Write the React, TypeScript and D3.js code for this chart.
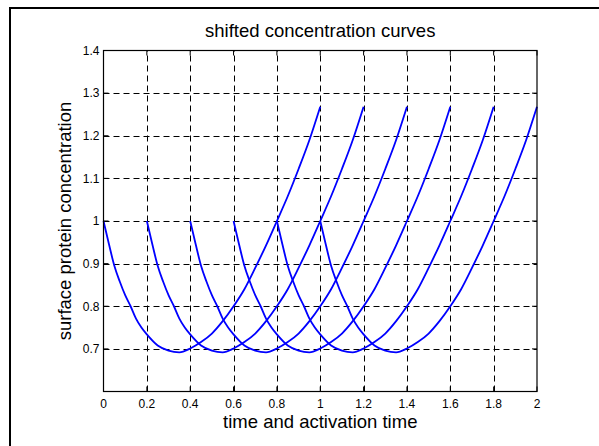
import React from "react";
import * as d3 from "d3";

// Base concentration curve (relative time s, value)
const baseTimes = [0, 0.025, 0.05, 0.075, 0.1, 0.125, 0.15, 0.175, 0.2, 0.25, 0.3, 0.35, 0.4, 0.45, 0.5, 0.55, 0.6, 0.65, 0.7, 0.75, 0.8, 0.85, 0.9, 0.95, 1.0];
const baseValues = [1.0, 0.946, 0.895, 0.858, 0.826, 0.8, 0.771, 0.75, 0.734, 0.708, 0.696, 0.692, 0.701, 0.716, 0.736, 0.765, 0.8, 0.84, 0.89, 0.943, 1.0, 1.058, 1.122, 1.19, 1.268];
// Activation time shifts
const shifts = [0, 0.2, 0.4, 0.6, 0.8, 1.0];

const xTicks = [0, 0.2, 0.4, 0.6, 0.8, 1, 1.2, 1.4, 1.6, 1.8, 2];
const xTickLabels = ["0", "0.2", "0.4", "0.6", "0.8", "1", "1.2", "1.4", "1.6", "1.8", "2"];
const yTicks = [0.7, 0.8, 0.9, 1.0, 1.1, 1.2, 1.3, 1.4];
const yTickLabels = ["0.7", "0.8", "0.9", "1", "1.1", "1.2", "1.3", "1.4"];

const titleText = "shifted concentration curves";
const xLabelText = "time and activation time";
const yLabelText = "surface protein concentration";

export default function App() {
  const W = 599, H = 446;
  const left = 103.5, right = 537, top = 50.5, bottom = 391.5;
  const x = d3.scaleLinear().domain([0, 2]).range([left, right]);
  const y = d3.scaleLinear().domain([0.6, 1.4]).range([bottom, top]);
  const font = "'Liberation Sans', Arial, Helvetica, sans-serif";

  const line = d3
    .line<[number, number]>()
    .x((d) => x(d[0]))
    .y((d) => y(d[1]))
    .curve(d3.curveMonotoneX);

  const curves = shifts.map((sh) =>
    baseTimes.map((t, i) => [t + sh, baseValues[i]] as [number, number])
  );

  return (
    <svg
      width={W}
      height={H}
      style={{ position: "absolute", left: 0, top: 0, display: "block", background: "#fff" }}
    >
      <rect x={0} y={0} width={W} height={H} fill="#fff" />
      {/* outer figure border */}
      <path d={`M10,${H + 5} L10,8 L${W + 5},8`} fill="none" stroke="#000" strokeWidth={2} />

      {/* grid */}
      <g stroke="#000" strokeWidth={1} strokeDasharray="6,4" fill="none">
        {xTicks
          .filter((t) => t > 0 && t < 2)
          .map((t) => (
            <line key={"gx" + t} x1={Math.round(x(t)) + 0.5} x2={Math.round(x(t)) + 0.5} y1={bottom} y2={top} />
          ))}
        {yTicks
          .filter((t) => t < 1.4)
          .map((t) => (
            <line key={"gy" + t} x1={left} x2={right} y1={Math.round(y(t)) + 0.5} y2={Math.round(y(t)) + 0.5} />
          ))}
      </g>

      {/* curves */}
      <g fill="none" stroke="#0000ff" strokeWidth={1.8} strokeLinejoin="round">
        {curves.map((c, i) => (
          <path key={"c" + i} d={line(c) || ""} />
        ))}
      </g>

      {/* axes box */}
      <rect x={left} y={top} width={right - left} height={bottom - top} fill="none" stroke="#000" strokeWidth={1.2} />

      {/* ticks */}
      <g stroke="#000" strokeWidth={1}>
        {xTicks.map((t) => (
          <g key={"tx" + t}>
            <line x1={x(t)} x2={x(t)} y1={bottom} y2={bottom - 5} />
            <line x1={x(t)} x2={x(t)} y1={top} y2={top + 5} />
          </g>
        ))}
        {yTicks.map((t) => (
          <g key={"ty" + t}>
            <line x1={left} x2={left + 5} y1={y(t)} y2={y(t)} />
            <line x1={right} x2={right - 5} y1={y(t)} y2={y(t)} />
          </g>
        ))}
      </g>

      {/* tick labels */}
      <g fontFamily={font} fontSize={12} fill="#000">
        {xTicks.map((t, i) => (
          <text key={"lx" + t} x={x(t)} y={408} textAnchor="middle">
            {xTickLabels[i]}
          </text>
        ))}
        {yTicks.map((t, i) => (
          <text key={"ly" + t} x={left - 4} y={y(t) + 4.3} textAnchor="end">
            {yTickLabels[i]}
          </text>
        ))}
      </g>

      {/* title and axis labels */}
      <text x={(left + right) / 2} y={37} textAnchor="middle" fontFamily={font} fontSize={18.5} fill="#000">
        {titleText}
      </text>
      <text x={(left + right) / 2} y={428} textAnchor="middle" fontFamily={font} fontSize={18.5} fill="#000">
        {xLabelText}
      </text>
      <text
        transform={`translate(71,${(top + bottom) / 2}) rotate(-90)`}
        textAnchor="middle"
        fontFamily={font}
        fontSize={18.5}
        fill="#000"
      >
        {yLabelText}
      </text>
    </svg>
  );
}
